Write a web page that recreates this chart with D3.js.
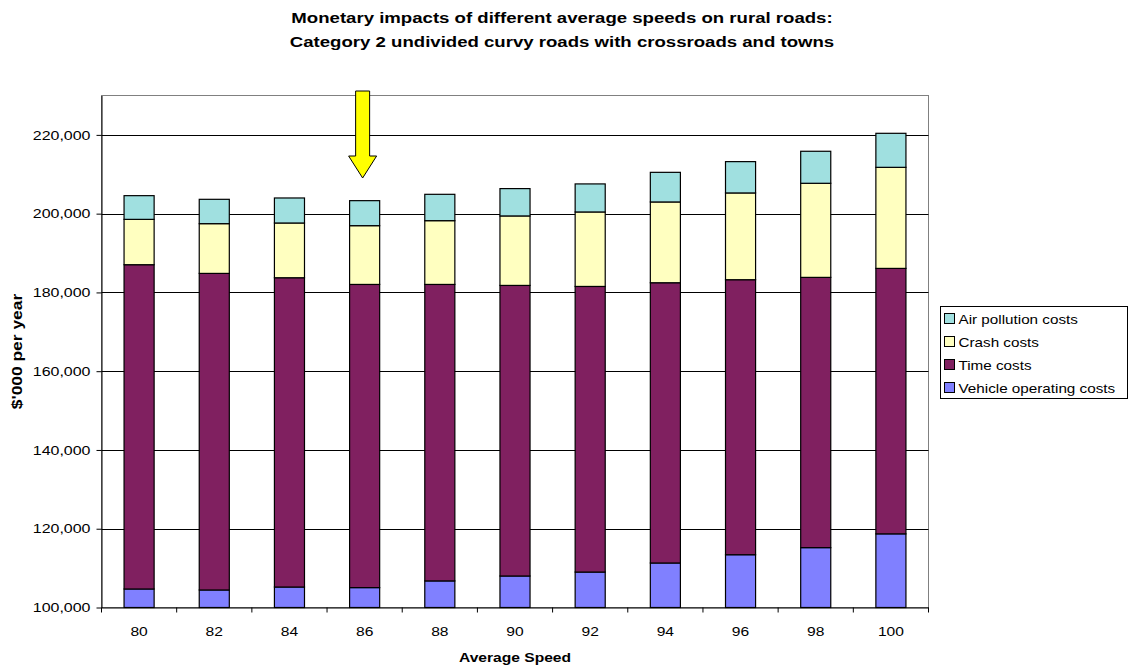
<!DOCTYPE html>
<html>
<head>
<meta charset="utf-8">
<script src="https://cdn.jsdelivr.net/npm/d3@7"></script>
<style>
  html, body { margin: 0; padding: 0; background: #fff; }
  svg { display: block; font-family: "Liberation Sans", Arial, sans-serif; }
</style>
</head>
<body>
<svg id="chart" width="1129" height="666"></svg>
<script>
// Average speed categories (km/h)
const speeds = ["80", "82", "84", "86", "88", "90", "92", "94", "96", "98", "100"];

// Cost components, $'000 per year
const vehicleOperating = [104700, 104450, 105200, 105050, 106750, 108000, 109000, 111300, 113400, 115200, 118700];
const timeCosts        = [82340, 80380, 78530, 76980, 75280, 73780, 72520, 71160, 69830, 68620, 67400];
const crashCosts       = [11510, 12630, 13900, 14920, 16190, 17640, 18910, 20510, 22030, 23890, 25660];
const airPollution     = [6020, 6180, 6350, 6350, 6690, 6940, 7120, 7520, 7950, 8130, 8640];

const seriesNames  = ["Vehicle operating costs", "Time costs", "Crash costs", "Air pollution costs"];
const seriesColors = ["#8080FF", "#802060", "#FFFFC0", "#A0E0E0"];

const yTicks = [100000, 120000, 140000, 160000, 180000, 200000, 220000];
const highlightedSpeed = "86";

// Text is drawn in a slightly widened face
const WIDE = "scale(1.2,1)";

const svg = d3.select("#chart");
const margin = { left: 101.5, right: 928.5, top: 95.5, bottom: 607.5 };

const rows = speeds.map((s, i) => ({
  speed: s,
  "Vehicle operating costs": vehicleOperating[i],
  "Time costs": timeCosts[i],
  "Crash costs": crashCosts[i],
  "Air pollution costs": airPollution[i]
}));

const x = d3.scaleBand()
  .domain(speeds)
  .range([margin.left, margin.right])
  .paddingInner(0.6)
  .paddingOuter(0.3);

// Axis starts at 100,000; bars below it are clipped to the baseline
const y = d3.scaleLinear()
  .domain([100000, 230000])
  .range([margin.bottom, margin.top])
  .clamp(true);

// Plot area border
svg.append("rect")
  .attr("x", margin.left).attr("y", margin.top)
  .attr("width", margin.right - margin.left)
  .attr("height", margin.bottom - margin.top)
  .attr("fill", "none").attr("stroke", "#808080").attr("stroke-width", 1);

// Horizontal gridlines
svg.append("g").selectAll("line")
  .data(yTicks.slice(1))
  .join("line")
  .attr("x1", margin.left).attr("x2", margin.right)
  .attr("y1", d => Math.round(y(d)) + 0.5).attr("y2", d => Math.round(y(d)) + 0.5)
  .attr("stroke", "#000").attr("stroke-width", 1);

// Stacked bars
const layers = d3.stack().keys(seriesNames)(rows);

svg.append("g").selectAll("g")
  .data(layers)
  .join("g")
  .attr("fill", (d, i) => seriesColors[i])
  .selectAll("rect")
  .data(d => d)
  .join("rect")
  .attr("x", d => x(d.data.speed))
  .attr("y", d => y(d[1]))
  .attr("width", x.bandwidth())
  .attr("height", d => y(d[0]) - y(d[1]))
  .attr("stroke", "#000")
  .attr("stroke-width", 1.2);

// Y axis
const yAxis = svg.append("g")
  .attr("transform", `translate(${margin.left},0)`)
  .call(d3.axisLeft(y).tickValues(yTicks).tickSize(5).tickSizeOuter(0)
    .tickFormat(d3.format(",")));
yAxis.select(".domain").attr("stroke", "#000");
yAxis.selectAll(".tick line").attr("stroke", "#000");
yAxis.selectAll(".tick text")
  .attr("font-size", 13.3).attr("fill", "#000").attr("x", 0)
  .attr("transform", `translate(-11,0) ${WIDE}`)
  .attr("font-family", "Liberation Sans, Arial, sans-serif");

// X axis: ticks sit between categories
const xAxis = svg.append("g")
  .attr("transform", `translate(0,${margin.bottom})`)
  .call(d3.axisBottom(x).tickSize(0).tickSizeOuter(0).tickPadding(19));
xAxis.select(".domain").attr("stroke", "#000");
xAxis.selectAll(".tick text")
  .attr("font-size", 13).attr("fill", "#000")
  .attr("transform", WIDE)
  .attr("font-family", "Liberation Sans, Arial, sans-serif");
const step = x.step();
xAxis.selectAll(".sep")
  .data(d3.range(speeds.length + 1))
  .join("line")
  .attr("class", "sep")
  .attr("x1", i => margin.left + i * step).attr("x2", i => margin.left + i * step)
  .attr("y1", 0).attr("y2", 5)
  .attr("stroke", "#000");

// Title
const titleLines = [
  "Monetary impacts of different average speeds on rural roads:",
  "Category 2 undivided curvy roads with crossroads and towns"
];
svg.append("g").selectAll("text")
  .data(titleLines)
  .join("text")
  .attr("transform", (d, i) => `translate(562,${23 + i * 24}) ${WIDE}`)
  .attr("text-anchor", "middle")
  .attr("font-size", 15.5).attr("font-weight", "bold")
  .text(d => d);

// Axis titles
svg.append("text")
  .attr("transform", `translate(515,662) ${WIDE}`)
  .attr("text-anchor", "middle")
  .attr("font-size", 13).attr("font-weight", "bold")
  .text("Average Speed");

svg.append("text")
  .attr("transform", `translate(22,${(margin.top + margin.bottom) / 2}) rotate(-90) ${WIDE}`)
  .attr("text-anchor", "middle")
  .attr("font-size", 14.5).attr("font-weight", "bold")
  .text("$'000 per year");

// Yellow arrow marking the 86 km/h case
const ax = x(highlightedSpeed) + x.bandwidth() / 2 - 2;
svg.append("path")
  .attr("d", `M${ax - 7},91 L${ax + 7},91 L${ax + 7},156 L${ax + 14},156 L${ax},178 L${ax - 14},156 L${ax - 7},156 Z`)
  .attr("fill", "#FFFF00").attr("stroke", "#000").attr("stroke-width", 1);

// Legend (top entry is the top of the stack)
const legend = svg.append("g").attr("transform", "translate(940.5,306.5)");
legend.append("rect")
  .attr("width", 187).attr("height", 92)
  .attr("fill", "#fff").attr("stroke", "#000").attr("stroke-width", 1);
const legendOrder = seriesNames.map((n, i) => ({ name: n, color: seriesColors[i] })).reverse();
const li = legend.selectAll("g.item")
  .data(legendOrder)
  .join("g")
  .attr("class", "item")
  .attr("transform", (d, i) => `translate(4,${7 + i * 23})`);
li.append("rect")
  .attr("width", 10).attr("height", 10)
  .attr("fill", d => d.color).attr("stroke", "#000").attr("stroke-width", 1);
li.append("text")
  .attr("transform", `translate(14,10) ${WIDE}`)
  .attr("font-size", 12.7)
  .text(d => d.name);
</script>
</body>
</html>
